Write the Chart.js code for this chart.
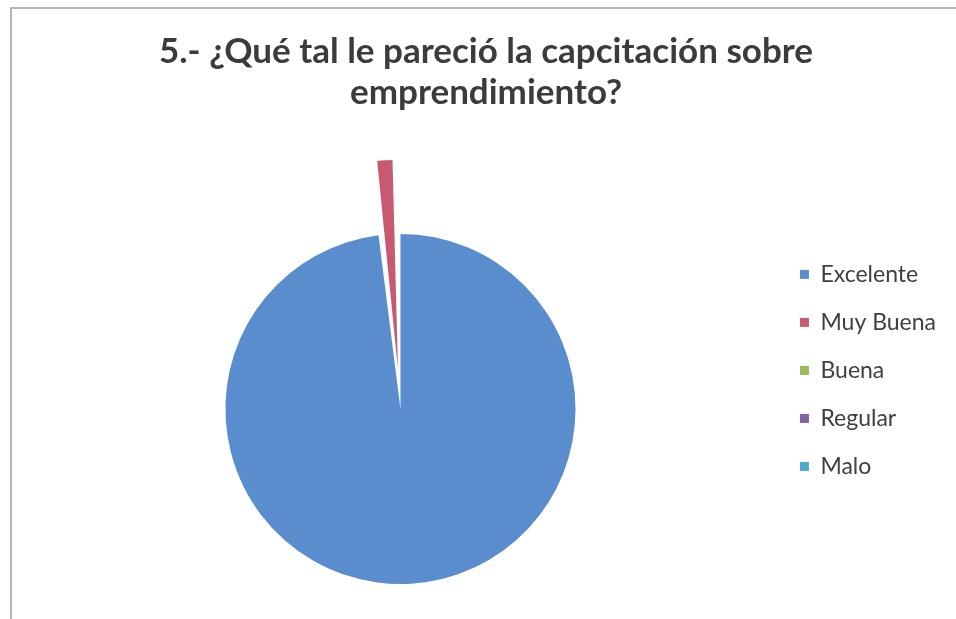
<!DOCTYPE html>
<html>
<head>
<meta charset="utf-8">
<script src="https://cdn.jsdelivr.net/npm/chart.js@4/dist/chart.umd.min.js"></script>
<style>
  html, body { margin: 0; padding: 0; background: #fff; overflow: hidden; }
  #frame {
    position: absolute; left: 10px; top: 7px; width: 944px; height: 620px;
    border-left: 2px solid #b4b4b4; border-top: 2px solid #b8b8b8;
    border-right: 1px solid #e2e2e2;
  }
  #wrap { position: absolute; left: 0; top: 0; width: 956px; height: 700px; }
</style>
</head>
<body>
<div id="frame"></div>
<div id="wrap"><canvas id="pie"></canvas></div>
<script>
/* Encuesta pregunta 5 — pie chart */

const TITLE_LINES = ['5.- ¿Qué tal le pareció la capcitación sobre', 'emprendimiento?'];
const CATEGORIES = ['Excelente', 'Muy Buena', 'Buena', 'Regular', 'Malo'];
const RESPONSES = [49, 1, 0, 0, 0];
const EXPLODE = [0, 158, 0, 0, 0];

const SLICE_COLORS = ['#5a8dcd', '#c75a70', '#9bbb59', '#8064a2', '#4bacc6'];
const TITLE_COLOR = '#3b3b3b';
const LEGEND_COLOR = '#404040';
const FONT = 'Lato, "Open Sans", sans-serif';

function renderPie() {
  var ctx = document.getElementById('pie').getContext('2d');
  new Chart(ctx, {
    type: 'pie',
    data: {
      labels: CATEGORIES,
      datasets: [{
        data: RESPONSES,
        backgroundColor: SLICE_COLORS,
        borderWidth: 0,
        offset: EXPLODE
      }]
    },
    options: {
      responsive: true,
      maintainAspectRatio: false,
      animation: false,
      layout: { padding: { left: 26, right: 10, top: 0, bottom: 37 } },
      plugins: {
        tooltip: { enabled: false },
        title: {
          display: true,
          text: TITLE_LINES,
          color: TITLE_COLOR,
          font: { family: FONT, size: 35, weight: 'bold', lineHeight: 1.17 },
          padding: { top: 31.5, bottom: 41.5 }
        },
        legend: {
          position: 'right',
          align: 'start',
          fullSize: false,
          title: { display: true, text: ' ', font: { size: 10, lineHeight: 1.2 }, padding: { top: 0, bottom: 71 } },
          labels: {
            color: LEGEND_COLOR,
            font: { family: FONT, size: 23 },
            boxWidth: 9, boxHeight: 9,
            padding: 25
          }
        }
      }
    }
  });
}

renderPie();
</script>
</body>
</html>
